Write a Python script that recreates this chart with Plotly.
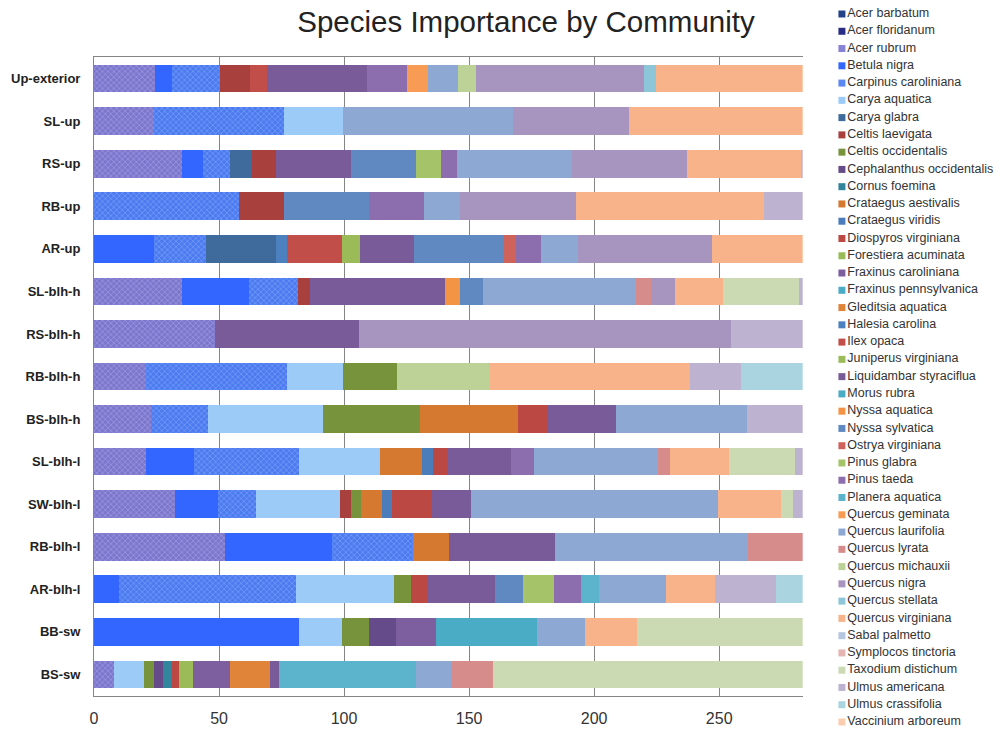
import plotly.graph_objects as go

communities = ["Up-exterior", "SL-up", "RS-up", "RB-up", "AR-up", "SL-blh-h", "RS-blh-h",
               "RB-blh-h", "BS-blh-h", "SL-blh-l", "SW-blh-l", "RB-blh-l", "AR-blh-l", "BB-sw", "BS-sw"]

species = ["Acer barbatum", "Acer floridanum", "Acer rubrum", "Betula nigra", "Carpinus caroliniana",
           "Carya aquatica", "Carya glabra", "Celtis laevigata", "Celtis occidentalis",
           "Cephalanthus occidentalis", "Cornus foemina", "Crataegus aestivalis", "Crataegus viridis",
           "Diospyros virginiana", "Forestiera acuminata", "Fraxinus caroliniana", "Fraxinus pennsylvanica",
           "Gleditsia aquatica", "Halesia carolina", "Ilex opaca", "Juniperus virginiana",
           "Liquidambar styraciflua", "Morus rubra", "Nyssa aquatica", "Nyssa sylvatica",
           "Ostrya virginiana", "Pinus glabra", "Pinus taeda", "Planera aquatica", "Quercus geminata",
           "Quercus laurifolia", "Quercus lyrata", "Quercus michauxii", "Quercus nigra",
           "Quercus stellata", "Quercus virginiana", "Sabal palmetto", "Symplocos tinctoria",
           "Taxodium distichum", "Ulmus americana", "Ulmus crassifolia", "Vaccinium arboreum"]

# importance values per community (order of `communities`)
acer_barbatum          = [0, 0, 0, 0, 0, 0, 0, 0, 0, 0, 0, 0, 0, 0, 0]
acer_floridanum        = [0, 0, 0, 0, 0, 0, 0, 0, 0, 0, 0, 0, 0, 0, 0]
acer_rubrum            = [24.5, 24.0, 35.3, 0, 0, 35.3, 48.3, 20.9, 22.6, 20.6, 32.3, 52.3, 0, 0, 7.9]
betula_nigra           = [6.5, 0, 8.1, 0, 23.9, 26.5, 0, 0, 0, 19.4, 17.1, 42.7, 10.0, 81.9, 0]
carpinus_caroliniana   = [19.5, 52.0, 10.9, 58.0, 20.7, 19.8, 0, 56.1, 23.0, 41.9, 15.3, 32.6, 70.6, 0, 0]
carya_aquatica         = [0, 23.6, 0, 0, 0, 0, 0, 22.6, 45.8, 32.4, 33.6, 0, 39.3, 17.1, 12.1]
carya_glabra           = [0, 0, 8.9, 0, 28.1, 0, 0, 0, 0, 0, 0, 0, 0, 0, 0]
celtis_laevigata       = [11.8, 0, 9.5, 18.0, 0, 4.7, 0, 0, 0, 0, 4.3, 0, 0, 0, 0]
celtis_occidentalis    = [0, 0, 0, 0, 0, 0, 0, 21.6, 38.9, 0, 4.1, 0, 6.8, 11.0, 4.0]
cephalanthus_occ       = [0, 0, 0, 0, 0, 0, 0, 0, 0, 0, 0, 0, 0, 10.7, 3.6]
cornus_foemina         = [0, 0, 0, 0, 0, 0, 0, 0, 0, 0, 0, 0, 0, 0, 3.4]
crataegus_aestivalis   = [0, 0, 0, 0, 0, 0, 0, 0, 39.1, 16.7, 8.3, 14.4, 0, 0, 0]
crataegus_viridis      = [0, 0, 0, 0, 0, 0, 0, 0, 0, 4.6, 4.2, 0, 0, 0, 0]
diospyros_virginiana   = [0, 0, 0, 0, 0, 0, 0, 0, 11.8, 5.8, 15.5, 0, 6.9, 0, 3.0]
forestiera_acuminata   = [0, 0, 0, 0, 0, 0, 0, 0, 0, 0, 0, 0, 0, 0, 5.6]
fraxinus_caroliniana   = [0, 0, 0, 0, 0, 0, 0, 0, 0, 0, 0, 0, 0, 15.9, 14.7]
fraxinus_pennsylvanica = [0, 0, 0, 0, 0, 0, 0, 0, 0, 0, 0, 0, 0, 40.6, 0]
gleditsia_aquatica     = [0, 0, 0, 0, 0, 0, 0, 0, 0, 0, 0, 0, 0, 0, 16.0]
halesia_carolina       = [0, 0, 0, 0, 4.3, 0, 0, 0, 0, 0, 0, 0, 0, 0, 0]
ilex_opaca             = [6.7, 0, 0, 0, 22.2, 0, 0, 0, 0, 0, 0, 0, 0, 0, 0]
juniperus_virginiana   = [0, 0, 0, 0, 7.1, 0, 0, 0, 0, 0, 0, 0, 0, 0, 0]
liquidambar            = [40.3, 0, 30.0, 0, 21.6, 54.0, 57.7, 0, 27.7, 25.4, 16.0, 42.5, 26.7, 0, 3.6]
morus_rubra            = [0, 0, 0, 0, 0, 0, 0, 0, 0, 0, 0, 0, 0, 0, 0]
nyssa_aquatica         = [0, 0, 0, 0, 0, 6.0, 0, 0, 0, 0, 0, 0, 0, 0, 0]
nyssa_sylvatica        = [0, 0, 26.1, 34.0, 36.1, 9.3, 0, 0, 0, 0, 0, 0, 11.3, 0, 0]
ostrya_virginiana      = [0, 0, 0, 0, 4.7, 0, 0, 0, 0, 0, 0, 0, 0, 0, 0]
pinus_glabra           = [0, 0, 9.9, 0, 0, 0, 0, 0, 0, 0, 0, 0, 12.4, 0, 0]
pinus_taeda            = [15.9, 0, 6.5, 21.9, 9.9, 0, 0, 0, 0, 9.1, 0, 0, 10.9, 0, 0]
planera_aquatica       = [0, 0, 0, 0, 0, 0, 0, 0, 0, 0, 0, 0, 7.0, 0, 55.0]
quercus_geminata       = [8.3, 0, 0, 0, 0, 0, 0, 0, 0, 0, 0, 0, 0, 0, 0]
quercus_laurifolia     = [12.1, 68.0, 46.0, 14.4, 14.8, 61.1, 0, 0, 52.3, 49.7, 98.9, 77.1, 27.0, 19.3, 13.7]
quercus_lyrata         = [0, 0, 0, 0, 0, 5.9, 0, 0, 0, 4.7, 0, 21.8, 0, 0, 17.0]
quercus_michauxii      = [7.0, 0, 0, 0, 0, 0, 0, 36.7, 0, 0, 0, 0, 0, 0, 0]
quercus_nigra          = [67.3, 46.4, 46.0, 46.6, 53.8, 9.8, 148.7, 0, 0, 0, 0, 0, 0, 0, 0]
quercus_stellata       = [4.8, 0, 0, 0, 0, 0, 0, 0, 0, 0, 0, 0, 0, 0, 0]
quercus_virginiana     = [58.7, 69.4, 45.4, 75.0, 36.2, 19.2, 0, 80.4, 0, 23.6, 25.1, 0, 19.4, 20.5, 0]
sabal_palmetto         = [0, 0, 0, 0, 0, 0, 0, 0, 0, 0, 0, 0, 0, 0, 0]
symplocos_tinctoria    = [0, 0, 0, 0, 0, 0, 0, 0, 0, 0, 0, 0, 0, 0, 0]
taxodium_distichum     = [0, 0, 0, 0, 0, 30.4, 0, 0, 0, 26.5, 4.7, 0, 0, 66.4, 123.8]
ulmus_americana        = [0, 0, 0.8, 15.5, 0, 1.4, 28.7, 20.3, 22.2, 3.0, 4.0, 0, 24.6, 0, 0]
ulmus_crassifolia      = [0, 0, 0, 0, 0, 0, 0, 24.8, 0, 0, 0, 0, 10.5, 0, 0]
vaccinium_arboreum     = [0, 0, 0, 0, 0, 0, 0, 0, 0, 0, 0, 0, 0, 0, 0]

series_values = [acer_barbatum, acer_floridanum, acer_rubrum, betula_nigra, carpinus_caroliniana,
                 carya_aquatica, carya_glabra, celtis_laevigata, celtis_occidentalis, cephalanthus_occ,
                 cornus_foemina, crataegus_aestivalis, crataegus_viridis, diospyros_virginiana,
                 forestiera_acuminata, fraxinus_caroliniana, fraxinus_pennsylvanica, gleditsia_aquatica,
                 halesia_carolina, ilex_opaca, juniperus_virginiana, liquidambar, morus_rubra,
                 nyssa_aquatica, nyssa_sylvatica, ostrya_virginiana, pinus_glabra, pinus_taeda,
                 planera_aquatica, quercus_geminata, quercus_laurifolia, quercus_lyrata,
                 quercus_michauxii, quercus_nigra, quercus_stellata, quercus_virginiana, sabal_palmetto,
                 symplocos_tinctoria, taxodium_distichum, ulmus_americana, ulmus_crassifolia,
                 vaccinium_arboreum]

colors = ["#24428A", "#2B2C86", "#8682D4", "#3366FF", "#5C88F2",
          "#9DCBF8", "#3E6A9C", "#A8413D", "#77933C", "#654B8A",
          "#31859C", "#D4792F", "#4A7DBA", "#BC4843", "#9BBB59",
          "#7D5FA0", "#4BACC6", "#E0843A", "#4D80BF", "#C24E4A",
          "#9BBB59", "#7A5B9A", "#4BACC6", "#F39444", "#6089C2",
          "#D0625C", "#A5C46A", "#8C6EAE", "#5CB4CC", "#F79B55",
          "#8EA8D4", "#D68C8A", "#BCD296", "#A895BF", "#8CC6D8",
          "#F8B38A", "#B4C6E0", "#E4B4B2", "#CCDAB3", "#BDB2CF",
          "#A9D4E0", "#FBCDB0"]

patterns = {"Acer rubrum": ("#7C77CC", "#B9B6EE"),
            "Carpinus caroliniana": ("#4A7BF0", "#A0BAFA")}

FONT = "Liberation Sans, Arial, sans-serif"

fig = go.Figure()
for name, vals, col in zip(species, series_values, colors):
    marker = dict(color=col, line=dict(width=0))
    if name in patterns:
        bg, fg = patterns[name]
        marker = dict(color=bg, line=dict(width=0),
                      pattern=dict(shape="x", bgcolor=bg, fgcolor=fg, size=4, solidity=0.35))
    fig.add_trace(go.Bar(name=name, y=communities, x=vals, orientation="h",
                         marker=marker, showlegend=False, xaxis="x", yaxis="y"))

# legend drawn as a scatter in its own axes
fig.add_trace(go.Scatter(x=[0] * len(species), y=species, mode="markers+text",
                         text=species, textposition="middle right",
                         marker=dict(symbol="square", size=7, color=colors, line=dict(width=0)),
                         textfont=dict(family=FONT, size=12.5, color="#333333"),
                         cliponaxis=False, showlegend=False, hoverinfo="skip",
                         xaxis="x2", yaxis="y2"))

W, H = 1006, 733
L = 94
plot_w = W - L
x_right = 802.7
y_top, y_bot = 57.3, 695.7

leg_first, leg_last = 14, 722
step = (leg_last - leg_first) / (len(species) - 1)
leg_top_idx = -leg_first / step
leg_bot_idx = (len(species) - 1) + (H - leg_last) / step
leg_x0 = 832

fig.update_layout(
    width=W, height=H,
    margin=dict(l=L, r=0, t=0, b=0),
    paper_bgcolor="white", plot_bgcolor="white",
    barmode="stack", bargap=0.35,
    showlegend=False,
    title=dict(text="Species Importance by Community", x=526 / W, xanchor="center",
               xref="container", y=1 - 22 / H, yanchor="middle", yref="container",
               font=dict(family=FONT, size=29.5, color="#222222")),
    xaxis=dict(domain=[0, (x_right - L) / plot_w], range=[0, 283.4],
               tickvals=[0, 50, 100, 150, 200, 250], showgrid=True, gridcolor="#858585",
               gridwidth=1, zeroline=False, showline=True, linecolor="#858585", linewidth=1,
               mirror=True, ticks="", ticklabelstandoff=8,
               tickfont=dict(family=FONT, size=16, color="#333333"), anchor="y"),
    yaxis=dict(domain=[(H - y_bot) / H, (H - y_top) / H], range=[len(communities) - 0.5, -0.5],
               showgrid=False, zeroline=False, showline=True, linecolor="#858585", linewidth=1,
               ticks="", ticklabelstandoff=10,
               tickfont=dict(family=FONT, size=13, color="#222222", weight="bold"), anchor="x"),
    xaxis2=dict(domain=[(leg_x0 - L) / plot_w, 1], range=[-0.057, 0.943], visible=False,
                anchor="y2"),
    yaxis2=dict(domain=[0, 1], range=[leg_bot_idx, leg_top_idx], visible=False, anchor="x2"),
)

# remove the browser's default 8px body margin so the figure fills the window exactly
fig.write_html("out.html", config={"displayModeBar": False},
               post_script="document.body.style.margin='0px';")
